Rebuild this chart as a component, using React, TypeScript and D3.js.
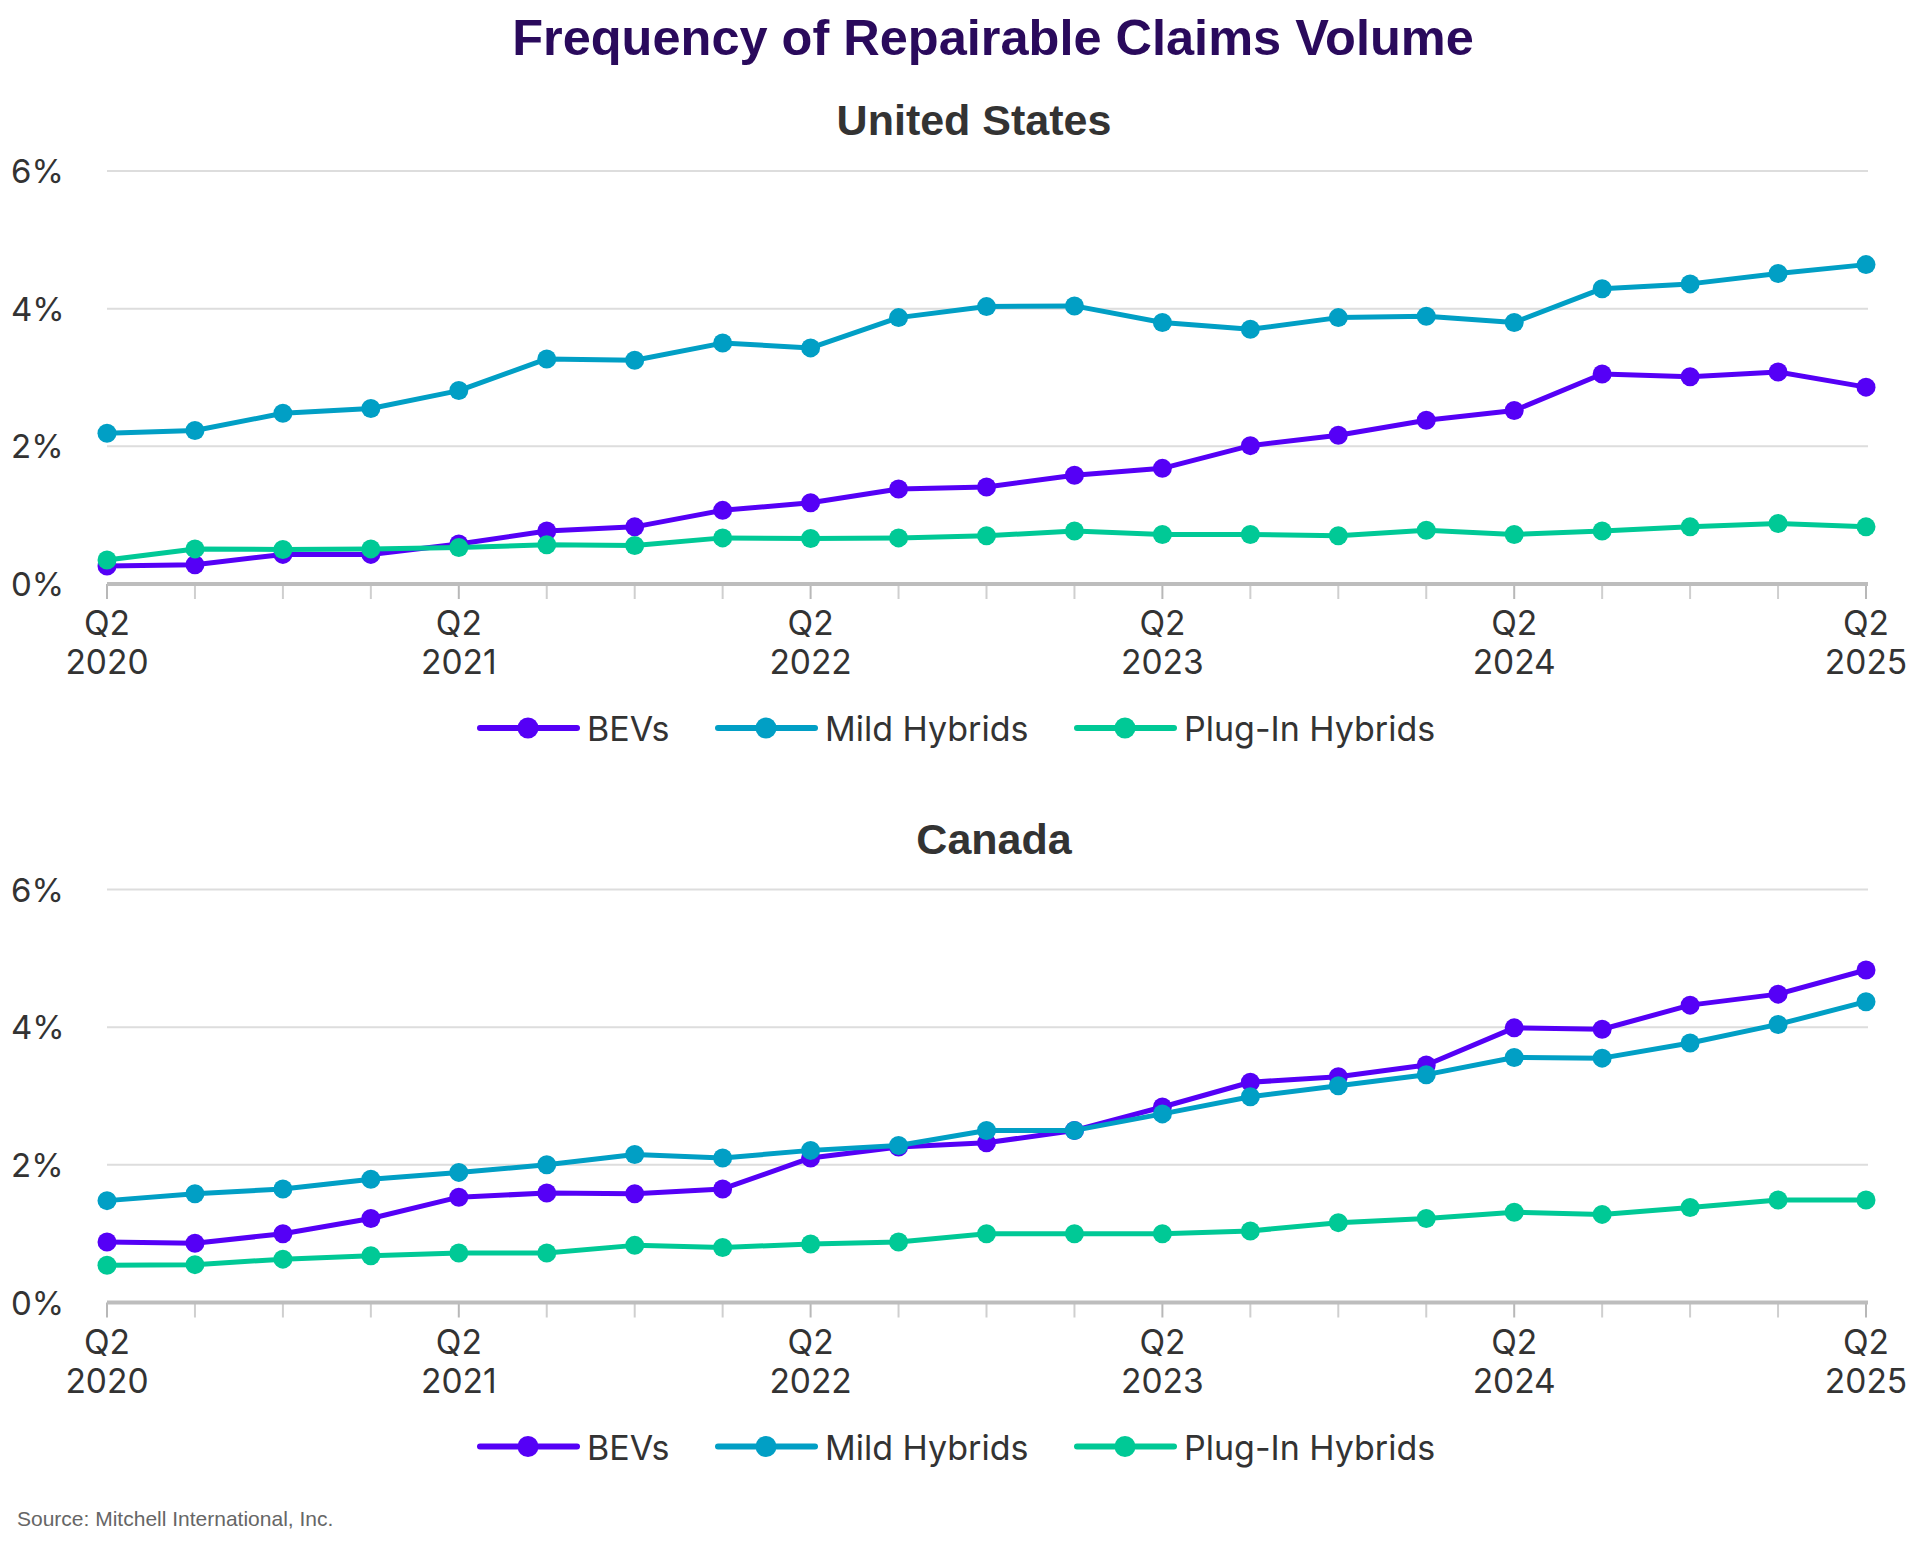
import React, { useEffect, useRef } from 'react';
import * as d3 from 'd3';

// quarter labels along the x axis
const quarters = [
  'Q2 2020', 'Q3 2020', 'Q4 2020', 'Q1 2021',
  'Q2 2021', 'Q3 2021', 'Q4 2021', 'Q1 2022',
  'Q2 2022', 'Q3 2022', 'Q4 2022', 'Q1 2023',
  'Q2 2023', 'Q3 2023', 'Q4 2023', 'Q1 2024',
  'Q2 2024', 'Q3 2024', 'Q4 2024', 'Q1 2025',
  'Q2 2025',
];

const seriesNames = ['BEVs', 'Mild Hybrids', 'Plug-In Hybrids'];
const seriesColors = ['#5500f6', '#019fc5', '#00c996'];
const yTicks = [0, 2, 4, 6];

// share of repairable claims, %
const usBevs = [0.26, 0.28, 0.43, 0.43, 0.58, 0.77, 0.83, 1.07, 1.18, 1.38, 1.41, 1.58, 1.68, 2.01, 2.16, 2.38, 2.52, 3.05, 3.01, 3.08, 2.86];
const usMild = [2.19, 2.23, 2.48, 2.55, 2.81, 3.27, 3.25, 3.50, 3.43, 3.87, 4.03, 4.04, 3.80, 3.70, 3.87, 3.89, 3.80, 4.29, 4.36, 4.51, 4.64];
const usPlugIn = [0.35, 0.51, 0.50, 0.51, 0.53, 0.57, 0.56, 0.67, 0.66, 0.67, 0.70, 0.77, 0.72, 0.72, 0.70, 0.78, 0.72, 0.77, 0.83, 0.88, 0.83];

const caBevs = [0.88, 0.86, 1.00, 1.22, 1.53, 1.59, 1.58, 1.65, 2.10, 2.26, 2.32, 2.50, 2.84, 3.20, 3.28, 3.45, 3.99, 3.97, 4.32, 4.48, 4.83];
const caMild = [1.48, 1.58, 1.65, 1.79, 1.89, 2.00, 2.15, 2.10, 2.21, 2.28, 2.50, 2.50, 2.74, 2.99, 3.15, 3.31, 3.56, 3.55, 3.77, 4.04, 4.37];
const caPlugIn = [0.54, 0.55, 0.63, 0.68, 0.72, 0.72, 0.83, 0.80, 0.85, 0.88, 1.00, 1.00, 1.00, 1.04, 1.16, 1.22, 1.31, 1.28, 1.38, 1.49, 1.49];

const WIDTH = 1920;
const HEIGHT = 1541;
const LABEL_FONT = 'Inter, "Noto Sans", sans-serif';
const HEAD_FONT = '"Liberation Sans", Arial, sans-serif';

const RegionChart = ({ heading, headingX, axisY, bevs, mild, plugIn }) => {
  const ref = useRef(null);

  useEffect(() => {
    const g = d3.select(ref.current);
    g.selectAll('*').remove();

    const x = d3.scalePoint().domain(quarters).range([107, 1866]);
    const y = d3.scaleLinear().domain([0, 6]).range([axisY, axisY - 413]);

    g.append('text')
      .attr('x', headingX)
      .attr('y', axisY - 449)
      .attr('text-anchor', 'middle')
      .attr('font-family', HEAD_FONT)
      .attr('font-weight', 700)
      .attr('font-size', 43)
      .attr('fill', '#333333')
      .text(heading);

    // gridlines + y labels
    g.selectAll('.grid')
      .data(yTicks.filter(t => t > 0))
      .enter().append('line')
      .attr('x1', 107)
      .attr('x2', 1868)
      .attr('y1', d => y(d))
      .attr('y2', d => y(d))
      .attr('stroke', '#dddddd')
      .attr('stroke-width', 2);

    g.selectAll('.ylabel')
      .data(yTicks)
      .enter().append('text')
      .attr('x', 11)
      .attr('y', d => y(d) + 12)
      .attr('font-family', LABEL_FONT)
      .attr('font-size', 33)
      .attr('fill', '#333333')
      .text(d => `${d}%`);

    // x ticks
    g.selectAll('.tick')
      .data(quarters)
      .enter().append('line')
      .attr('x1', d => x(d))
      .attr('x2', d => x(d))
      .attr('y1', axisY)
      .attr('y2', axisY + 15)
      .attr('stroke', d => (d.startsWith('Q2') ? '#b8b8b8' : '#cfcfcf'))
      .attr('stroke-width', 2);

    g.append('line')
      .attr('x1', 107)
      .attr('x2', 1868)
      .attr('y1', axisY)
      .attr('y2', axisY)
      .attr('stroke', '#bdbdbd')
      .attr('stroke-width', 4);

    const majors = quarters.filter(q => q.startsWith('Q2'));
    const xl = g.selectAll('.xlabel')
      .data(majors)
      .enter().append('text')
      .attr('text-anchor', 'middle')
      .attr('font-family', LABEL_FONT)
      .attr('font-size', 33.5)
      .attr('fill', '#333333');
    xl.append('tspan')
      .attr('x', d => x(d))
      .attr('y', axisY + 51)
      .text(d => d.split(' ')[0]);
    xl.append('tspan')
      .attr('x', d => x(d))
      .attr('y', axisY + 90)
      .text(d => d.split(' ')[1]);

    // series
    const series = [bevs, mild, plugIn];
    const line = d3.line()
      .x((d, i) => x(quarters[i]))
      .y(d => y(d));

    series.forEach((values, s) => {
      const sg = g.append('g');
      sg.append('path')
        .attr('d', line(values))
        .attr('fill', 'none')
        .attr('stroke', seriesColors[s])
        .attr('stroke-width', 5)
        .attr('stroke-linejoin', 'round');
      sg.selectAll('circle')
        .data(values)
        .enter().append('circle')
        .attr('cx', (d, i) => x(quarters[i]))
        .attr('cy', d => y(d))
        .attr('r', 9.5)
        .attr('fill', seriesColors[s]);
    });

    // legend
    const legendY = axisY + 144;
    const legendX = [478, 716, 1075];
    const items = g.selectAll('.legend')
      .data(seriesNames)
      .enter().append('g')
      .attr('transform', (d, i) => `translate(${legendX[i]},${legendY})`);
    items.append('line')
      .attr('x1', 2)
      .attr('x2', 99)
      .attr('stroke', (d, i) => seriesColors[i])
      .attr('stroke-width', 6)
      .attr('stroke-linecap', 'round');
    items.append('circle')
      .attr('cx', 50)
      .attr('r', 10.5)
      .attr('fill', (d, i) => seriesColors[i]);
    items.append('text')
      .attr('x', 109)
      .attr('y', 13)
      .attr('font-family', LABEL_FONT)
      .attr('font-size', 34)
      .attr('fill', '#333333')
      .text(d => d);
  }, [heading, headingX, axisY, bevs, mild, plugIn]);

  return <g ref={ref}></g>;
};

const App = () => (
  <svg
    width={WIDTH}
    height={HEIGHT}
    style={{ position: 'absolute', left: 0, top: 0, background: '#ffffff' }}
  >
    <rect width={WIDTH} height={HEIGHT} fill="#ffffff" />
    <text
      x={993}
      y={55}
      textAnchor="middle"
      fontFamily={HEAD_FONT}
      fontWeight={700}
      fontSize={50.5}
      fill="#2a0a5c"
    >
      Frequency of Repairable Claims Volume
    </text>
    <RegionChart heading="United States" headingX={974} axisY={584} bevs={usBevs} mild={usMild} plugIn={usPlugIn} />
    <RegionChart heading="Canada" headingX={994} axisY={1302.5} bevs={caBevs} mild={caMild} plugIn={caPlugIn} />
    <text x={17} y={1526} fontFamily={HEAD_FONT} fontSize={21} fill="#666666">
      Source: Mitchell International, Inc.
    </text>
  </svg>
);

export default App;
